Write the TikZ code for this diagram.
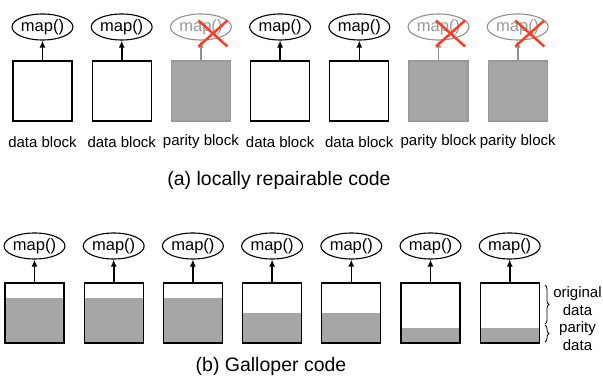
\documentclass[tikz,border=0pt]{standalone}
\usepackage{fontspec}
\setmainfont{Liberation Sans}
\usetikzlibrary{shapes.geometric,arrows.meta,decorations.pathreplacing,calc}
\definecolor{gfill}{HTML}{A6A6A6}
\definecolor{gline}{HTML}{909090}
\definecolor{gtext}{HTML}{999999}
\definecolor{xred}{HTML}{FF3A1E}
\tikzset{
  mapnode/.style={ellipse,draw,line width=1.1pt,minimum width=60pt,minimum height=26pt,inner sep=0pt,font=\fontsize{16.5}{18}\selectfont},
  mapgrey/.style={mapnode,draw=gline,text=gtext},
  blk/.style={rectangle,draw,line width=1.2pt,minimum width=59pt,minimum height=60pt,inner sep=0pt},
  parblk/.style={rectangle,draw=gfill!92!black,fill=gfill,line width=1.2pt,minimum width=59pt,minimum height=60pt,inner sep=0pt},
  gblk/.style={blk,path picture={\fill[gfill] (path picture bounding box.south west) rectangle ([yshift=#1]path picture bounding box.south east);}},
  arr/.style={line width=1.6pt,-{Latex[length=7pt,width=6pt]}},
  garr/.style={arr,draw=gline},
  lbl/.style={font=\fontsize{15}{17}\selectfont,inner sep=0pt},
  captxt/.style={font=\fontsize{19.5}{22}\selectfont,inner sep=0pt},
  xmark/.style={draw=xred,line width=2.4pt},
  brc/.style={decorate,decoration={brace,amplitude=4pt},line width=0.8pt}
}
\begin{document}
\begin{tikzpicture}[x=1pt,y=-1pt]
\useasboundingbox (0,0) rectangle (603,379);
% top row
\foreach \i/\kind in {1/d,2/d,3/p,4/d,5/d,6/p,7/p}{
  \pgfmathsetmacro{\cx}{42.5+79.2*(\i-1)}
  \if\kind d
    \node[blk] (t\i) at (\cx,91) {};
    \node[mapnode] (e\i) at (\cx,27) {map()};
    \draw[arr] (t\i.north) -- (e\i.south);
    \node[lbl] (l\i) at (\cx,142) {data block};
  \else
    \node[parblk] (t\i) at (\cx,91) {};
    \node[mapgrey] (e\i) at (\cx,27) {map()};
    \draw[garr] (t\i.north) -- (e\i.south);
    \node[lbl] (l\i) at (\cx,142) {parity block};
    \draw[xmark] ([shift={(-2.5,-6.5)}]e\i.center) -- ([shift={(26.5,19.5)}]e\i.center);
    \draw[xmark] ([shift={(-2.5,19.5)}]e\i.center) -- ([shift={(26.5,-6.5)}]e\i.center);
  \fi
}
\node[captxt] (capa) at (279,180) {(a) locally repairable code};
% bottom row
\foreach \i/\h in {1/45,2/45,3/45,4/30,5/30,6/15,7/15}{
  \pgfmathsetmacro{\cx}{34.5+79.2*(\i-1)}
  \node[gblk=\h pt] (b\i) at (\cx,313) {};
  \node[mapnode] (f\i) at (\cx,246) {map()};
  \draw[arr] (b\i.north) -- (f\i.south);
}
\coordinate (br1) at (545,285);
\coordinate (br2) at (545,324);
\coordinate (br3) at (545,342);
\draw[brc] (br1) -- (br2);
\draw[brc] ([yshift=-1pt]br2) -- (br3);
\node[lbl,align=center,font=\fontsize{15}{17.6}\selectfont] (side) at (577.5,318.5) {original\\data\\parity\\data};
\node[captxt] (capb) at (271,366) {(b) Galloper code};
\end{tikzpicture}
\end{document}
